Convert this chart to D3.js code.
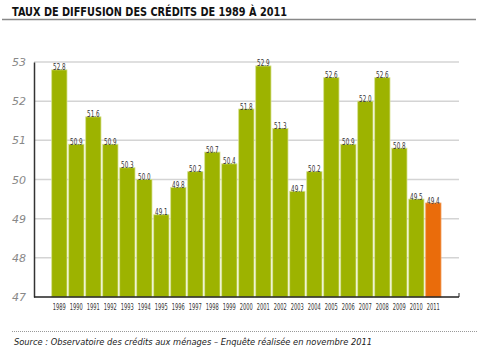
<!DOCTYPE html>
<html><head><meta charset="utf-8">
<script src="https://cdn.jsdelivr.net/npm/d3@7"></script>
<style>
body{margin:0;background:#fff;}
svg{display:block;}
</style></head>
<body>
<svg id="c" width="480" height="359"></svg>
<script>
const years = ["1989","1990","1991","1992","1993","1994","1995","1996","1997","1998","1999","2000","2001","2002","2003","2004","2005","2006","2007","2008","2009","2010","2011"];
const values = [52.8,50.9,51.6,50.9,50.3,50.0,49.1,49.8,50.2,50.7,50.4,51.8,52.9,51.3,49.7,50.2,52.6,50.9,52.0,52.6,50.8,49.5,49.4];
const yTicks = [47,48,49,50,51,52,53];
const title = "TAUX DE DIFFUSION DES CRÉDITS DE 1989 À 2011";
const source = "Source : Observatoire des crédits aux ménages – Enquête réalisée en novembre 2011";

const svg = d3.select("#c");
const narrow = "'DejaVu Sans',sans-serif";

// title
svg.append("text").attr("x",12).attr("y",16)
  .attr("font-family","'DejaVu Sans',sans-serif")
  .attr("font-weight","bold").attr("font-size",12).attr("fill","#111")
  .attr("textLength",275).attr("lengthAdjust","spacingAndGlyphs")
  .text(title);
svg.append("line").attr("x1",2).attr("x2",476).attr("y1",19.5).attr("y2",19.5)
  .attr("stroke","#888").attr("stroke-width",1.5);

const x = d3.scaleBand().domain(years).range([50.85,441.85]).paddingInner(0.1).paddingOuter(0.05);
const y = d3.scaleLinear().domain([47,53]).range([297,62]);

// gridlines
svg.append("g").selectAll("line").data(yTicks.filter(d=>d>47)).join("line")
  .attr("x1",34).attr("x2",459).attr("y1",d=>y(d)).attr("y2",d=>y(d))
  .attr("stroke","#d4d4d4").attr("stroke-width",1.5);

// y axis
const yAxis = d3.axisLeft(y).tickValues(yTicks).tickSize(0).tickPadding(8).tickFormat(d3.format("d"));
const ya = svg.append("g").attr("transform","translate(34,0)").call(yAxis);
ya.select(".domain").attr("stroke","#333").attr("stroke-width",1.5);
ya.selectAll("text").attr("font-family","'DejaVu Sans',sans-serif").attr("font-style","italic")
  .attr("font-size",11).attr("fill","#888").attr("font-weight",300);

// bars
svg.append("g").selectAll("rect").data(values).join("rect")
  .attr("x",(d,i)=>x(years[i])).attr("width",x.bandwidth())
  .attr("y",d=>y(d)).attr("height",d=>y(47)-y(d))
  .attr("fill",(d,i)=>i===values.length-1?"#ea6c0b":"#9db300")
  .attr("stroke",(d,i)=>i===values.length-1?"#f3a060":"#d6e290").attr("stroke-width",0.8);

// value labels
svg.append("g").selectAll("text").data(values).join("text")
  .attr("x",(d,i)=>x(years[i])+x.bandwidth()/2).attr("y",d=>y(d)+0.5)
  .attr("text-anchor","middle").attr("font-family",narrow).attr("font-size",9.5)
  .attr("textLength",12.5).attr("lengthAdjust","spacingAndGlyphs")
  .attr("fill","#333").text(d=>d.toFixed(1));

// x axis
const xAxis = d3.axisBottom(x).tickSize(0).tickPadding(7);
const xa = svg.append("g").attr("transform","translate(0,297)").call(xAxis);
xa.select(".domain").remove();
xa.selectAll("text").attr("font-family",narrow).attr("font-size",8.5).attr("fill","#333")
  .attr("textLength",13).attr("lengthAdjust","spacingAndGlyphs");
svg.append("line").attr("x1",34).attr("x2",459).attr("y1",297).attr("y2",297)
  .attr("stroke","#222").attr("stroke-width",1.5);
svg.append("line").attr("x1",459).attr("x2",459).attr("y1",293).attr("y2",297)
  .attr("stroke","#222").attr("stroke-width",1);

// source
svg.append("line").attr("x1",12).attr("x2",478).attr("y1",331.5).attr("y2",331.5)
  .attr("stroke","#999").attr("stroke-width",1).attr("stroke-dasharray","1,1");
svg.append("text").attr("x",14).attr("y",345)
  .attr("font-family","'DejaVu Sans',sans-serif").attr("font-style","italic")
  .attr("font-size",9.5).attr("fill","#222")
  .attr("textLength",358).attr("lengthAdjust","spacingAndGlyphs")
  .text(source);
</script>
</body></html>
